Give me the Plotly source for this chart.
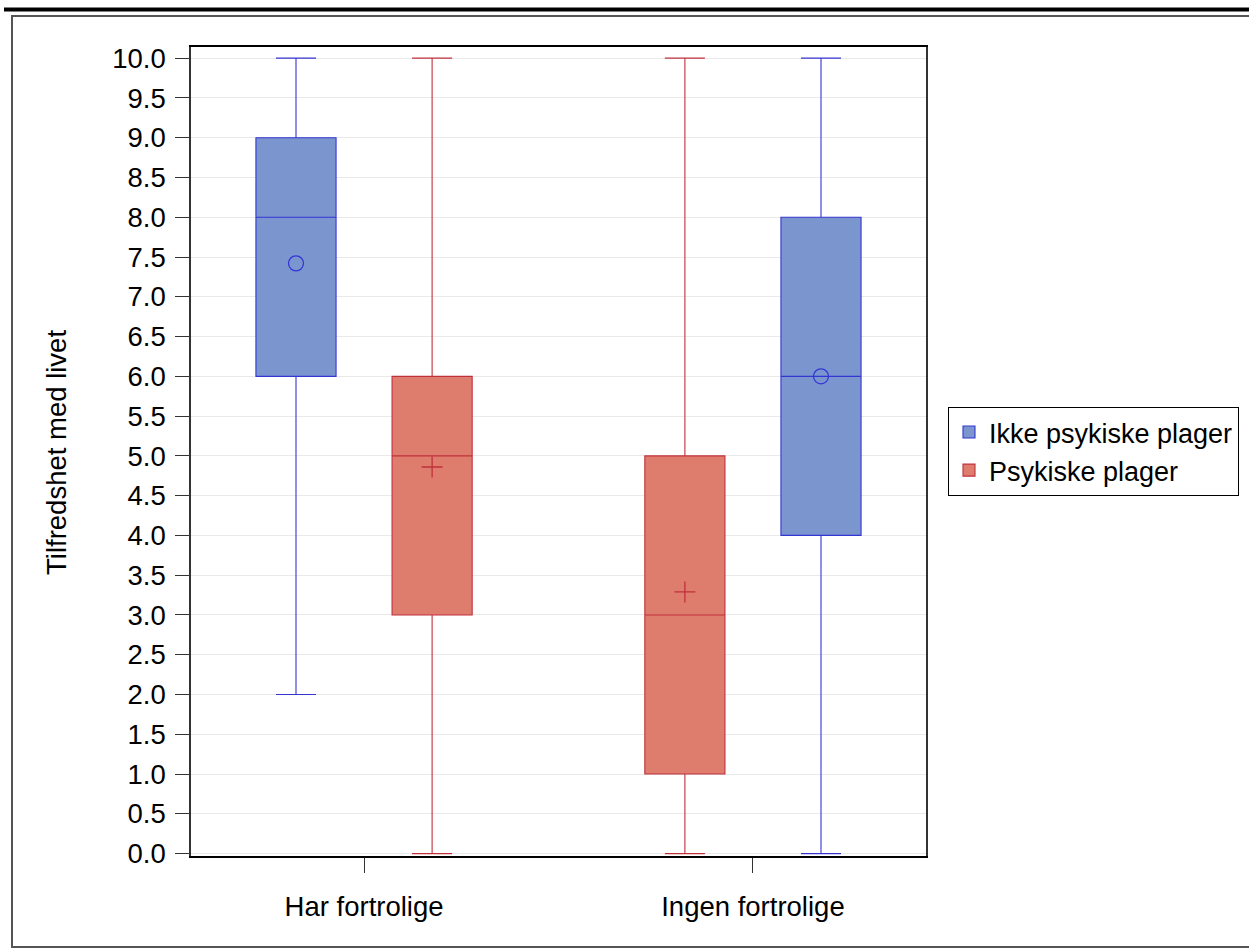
import plotly.graph_objects as go

# ---- data ----
categories = ["Har fortrolige", "Ingen fortrolige"]
series = ["Ikke psykiske plager", "Psykiske plager"]
# order of the two boxes inside each category (left, right)
group_order = {
    "Har fortrolige": ["Ikke psykiske plager", "Psykiske plager"],
    "Ingen fortrolige": ["Psykiske plager", "Ikke psykiske plager"],
}
ikke_min = [2, 0]
ikke_q1 = [6, 4]
ikke_median = [8, 6]
ikke_q3 = [9, 8]
ikke_max = [10, 10]
ikke_mean = [7.42, 6.0]

psyk_min = [0, 0]
psyk_q1 = [3, 1]
psyk_median = [5, 3]
psyk_q3 = [6, 5]
psyk_max = [10, 10]
psyk_mean = [4.86, 3.29]

y_ticks = [i * 0.5 for i in range(21)]

# ---- styles ----
W, H = 1249, 949
L, R, T, B = 191, 926, 47, 856
FONT = "Liberation Sans, Arial, sans-serif"
FS = 27.5
styles = {
    "Ikke psykiske plager": dict(fill="#7b96cf", line="#3535d2", mean_symbol="circle-open"),
    "Psykiske plager": dict(fill="#de7d6d", line="#c0303c", mean_symbol="cross-thin-open"),
}
stats = {
    "Ikke psykiske plager": (ikke_min, ikke_q1, ikke_median, ikke_q3, ikke_max, ikke_mean),
    "Psykiske plager": (psyk_min, psyk_q1, psyk_median, psyk_q3, psyk_max, psyk_mean),
}
OFFSET = 0.175
BOXW = 0.206

fig = go.Figure()
for s in series:
    st = styles[s]
    mn, q1, md, q3, mx, mean = stats[s]
    xs = []
    for i, c in enumerate(categories):
        idx = group_order[c].index(s)
        xs.append(i + (-OFFSET if idx == 0 else OFFSET))
    fig.add_trace(go.Box(
        name=s, x=xs, q1=q1, median=md, q3=q3,
        lowerfence=mn, upperfence=mx,
        width=BOXW, whiskerwidth=0.5, boxpoints=False,
        fillcolor=st["fill"], line=dict(color=st["line"], width=1.1),
        showlegend=True,
    ))
    fig.add_trace(go.Scatter(
        x=xs, y=mean, mode="markers", showlegend=False,
        marker=dict(symbol=st["mean_symbol"], size=15,
                    color=st["line"], line=dict(color=st["line"], width=1.3)),
    ))

# pixel (page coords) -> paper coords
def px_x(p):
    return (p - L) / (R - L)

def px_y(p):
    return (B - p) / (B - T)

shapes = [
    # outer frame
    dict(type="rect", xref="paper", yref="paper",
         x0=px_x(12), x1=px_x(1256), y0=px_y(947), y1=px_y(16),
         line=dict(color="#555555", width=2), fillcolor="rgba(0,0,0,0)"),
    # thick rule at the top
    dict(type="line", xref="paper", yref="paper",
         x0=px_x(4), x1=px_x(1262), y0=px_y(9.5), y1=px_y(9.5),
         line=dict(color="black", width=4)),
]

fig.update_layout(
    width=W, height=H,
    margin=dict(l=L, r=W - R, t=T, b=H - B, pad=0, autoexpand=False),
    paper_bgcolor="white", plot_bgcolor="white",
    font=dict(family=FONT, size=FS, color="black"),
    showlegend=True,
    legend=dict(
        x=px_x(948), xanchor="left", y=0.5, yanchor="middle",
        bordercolor="black", borderwidth=1, bgcolor="white",
        font=dict(family=FONT, size=27, color="black"),
        tracegroupgap=0, itemwidth=30,
    ),
    shapes=shapes,
    annotations=[dict(
        text="Tilfredshet med livet", xref="paper", yref="paper",
        x=px_x(57), y=px_y(453), xanchor="center", yanchor="middle",
        textangle=-90, showarrow=False,
        font=dict(family=FONT, size=FS, color="black"),
    )],
)
fig.update_xaxes(
    range=[-0.445, 1.445], tickmode="array", tickvals=list(range(len(categories))),
    ticktext=categories, ticks="outside", ticklen=15, tickwidth=1.2, tickcolor="#333333",
    showgrid=False, zeroline=False, showline=True, linecolor="black", linewidth=1.5,
    mirror=True, ticklabelstandoff=10,
)
fig.update_yaxes(
    range=[-0.03, 10.14], tickmode="array", tickvals=y_ticks,
    ticktext=[f"{v:.1f}" for v in y_ticks],
    ticks="outside", ticklen=14, tickwidth=1.2, tickcolor="#333333",
    showgrid=True, gridcolor="#e9e9e9", gridwidth=1,
    zeroline=False, showline=True, linecolor="#333333", linewidth=1.5,
    mirror=True, ticklabelstandoff=4,
)

fig.write_html(
    "out.html",
    config={"displayModeBar": False},
    post_script="document.body.style.margin='0';document.body.style.overflow='hidden';",
)
